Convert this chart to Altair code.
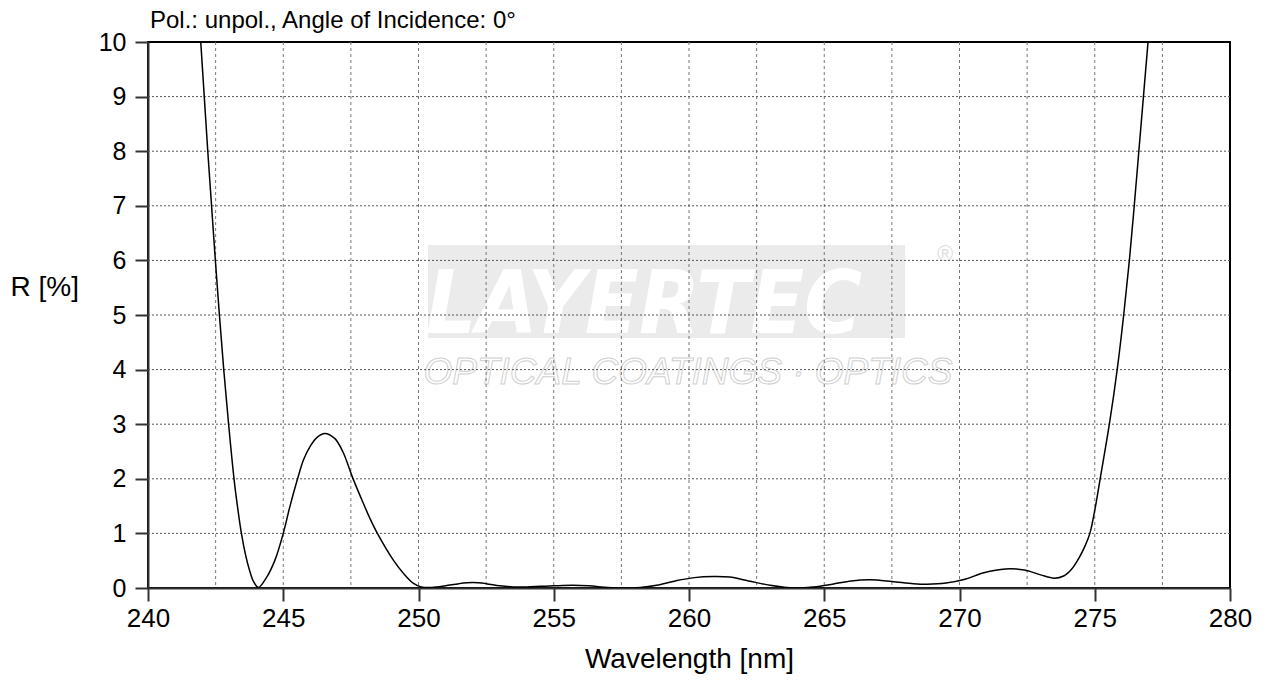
import altair as alt
import pandas as pd

# ---- data ----
wavelength = [241.95, 242.08, 242.21, 242.35, 242.49, 242.64, 242.80, 242.98, 243.18, 243.32,
              243.46, 243.60, 243.75, 243.90, 244.08, 244.39, 244.70, 245.0, 245.25, 245.5,
              245.75, 246.0, 246.25, 246.54, 246.9, 247.2, 247.55, 247.9, 248.2, 248.48,
              249.07, 249.44, 249.8, 250.1, 250.5,
              251.0, 251.5, 252.0, 252.5, 253.0, 253.5, 254.0, 254.5, 255.0, 255.7,
              256.3, 257.0, 257.6, 258.2, 258.8, 259.5, 260.2, 260.9, 261.5, 262.2,
              263.0, 263.9, 264.6, 265.3, 266.0, 266.7, 267.5, 268.3, 268.8, 269.5,
              270.2, 270.9, 271.7, 272.4, 273.0, 273.5, 273.85, 274.15, 274.45, 274.65,
              274.82, 275.0, 275.20, 275.54, 275.83, 276.07, 276.28, 276.46, 276.63, 276.80,
              276.97]
reflectance = [10.0, 9.0, 8.0, 7.0, 6.0, 5.0, 4.0, 3.0, 2.0, 1.45,
               0.98, 0.62, 0.33, 0.12, 0.01, 0.2, 0.52, 1.0, 1.5, 1.95,
               2.35, 2.6, 2.76, 2.83, 2.74, 2.5, 2.04, 1.62, 1.28, 1.0,
               0.51, 0.27, 0.09, 0.02, 0.01,
               0.04, 0.08, 0.1, 0.08, 0.04, 0.02, 0.02, 0.03, 0.04, 0.05,
               0.04, 0.01, 0.0, 0.01, 0.05, 0.13, 0.19, 0.21, 0.2, 0.13,
               0.05, 0.0, 0.02, 0.07, 0.13, 0.15, 0.12, 0.08, 0.07, 0.09,
               0.16, 0.28, 0.35, 0.33, 0.24, 0.18, 0.22, 0.35, 0.58, 0.78,
               1.0, 1.42, 2.0, 3.0, 4.0, 5.0, 6.0, 7.0, 8.0, 9.0,
               10.0]

x_labels = [240, 245, 250, 255, 260, 265, 270, 275, 280]
x_grid = [242.5, 245, 247.5, 250, 252.5, 255, 257.5, 260, 262.5, 265, 267.5, 270, 272.5, 275, 277.5]
y_ticks = [0, 1, 2, 3, 4, 5, 6, 7, 8, 9, 10]
y_grid = [1, 2, 3, 4, 5, 6, 7, 8, 9]

title_text = "Pol.: unpol., Angle of Incidence: 0°"
x_title = "Wavelength [nm]"
y_title = "R [%]"

FONT = "Liberation Sans, Arial, sans-serif"
W, H = 1082, 546

df = pd.DataFrame({"wl": wavelength, "R": reflectance})
gx = pd.DataFrame({"g": x_grid})
gy = pd.DataFrame({"g": y_grid})
one = pd.DataFrame({"a": [0]})

xscale = alt.Scale(domain=[240, 280], nice=False, zero=False)
yscale = alt.Scale(domain=[0, 10], nice=False, zero=False)

x_axis = alt.Axis(values=x_labels, title=x_title, grid=False, tickSize=13, tickWidth=2,
                  tickColor="#333333", domainColor="#333333", domainWidth=2,
                  labelFont=FONT, labelFontSize=26, labelColor="black", labelPadding=4,
                  labelFlush=False, format="d",
                  titleFont=FONT, titleFontSize=28, titleFontWeight="normal",
                  titleColor="black", titlePadding=14)
y_axis = alt.Axis(values=y_ticks, title=y_title, grid=False, tickSize=13, tickWidth=2,
                  tickColor="#333333", domainColor="#333333", domainWidth=2,
                  labelFont=FONT, labelFontSize=25, labelColor="black", labelPadding=9,
                  labelFlush=False, format="d",
                  titleFont=FONT, titleFontSize=28, titleFontWeight="normal",
                  titleColor="black", titleAngle=0, titleAlign="left",
                  titleBaseline="middle", titleX=-138, titleY=245)

# title as text above the plot
title = alt.Chart(one).mark_text(text=title_text, font=FONT, fontSize=24, color="black",
                                 align="left", baseline="middle").encode(
    x=alt.value(2), y=alt.value(-21))

# watermark
band = alt.Chart(one).mark_rect(color="#ebebeb").encode(
    x=alt.value(280), x2=alt.value(757), y=alt.value(203), y2=alt.value(296))
logo = alt.Chart(one).mark_text(
    text="LAYERTEC", font="Liberation Sans Narrow, DejaVu Sans Condensed, Liberation Sans, sans-serif",
    fontSize=88, fontStyle="italic", fontWeight="bold", color="white",
    align="center", baseline="alphabetic").encode(x=alt.value(496), y=alt.value(291))
reg = alt.Chart(one).mark_text(text="®", font=FONT, fontSize=22, color="#dddddd").encode(
    x=alt.value(797), y=alt.value(212))
sub = alt.Chart(one).mark_text(
    text="OPTICAL COATINGS · OPTICS", font=FONT, fontSize=37, fontStyle="italic",
    fill="white", stroke="#d0d0d0", strokeWidth=1, align="center",
    baseline="alphabetic").encode(x=alt.value(540), y=alt.value(342))

vgrid = alt.Chart(gx).mark_rule(color="#777777", strokeDash=[3, 3], strokeWidth=1).encode(
    x=alt.X("g:Q", scale=xscale, axis=x_axis))
hgrid = alt.Chart(gy).mark_rule(color="#555555", strokeDash=[2, 2], strokeWidth=1).encode(
    y=alt.Y("g:Q", scale=yscale, axis=y_axis))

curve = alt.Chart(df).mark_line(color="black", strokeWidth=1.5, clip=True,
                                interpolate="catmull-rom").encode(
    x=alt.X("wl:Q", scale=xscale, axis=x_axis),
    y=alt.Y("R:Q", scale=yscale, axis=y_axis))

chart = alt.layer(band, logo, reg, sub, vgrid, hgrid, curve, title).properties(
    width=W, height=H,
    padding={"left": 140, "top": 34, "right": 26, "bottom": 92},
    autosize="none",
).configure_view(stroke="black", strokeWidth=2)

chart.save("out.html", embed_options={"renderer": "svg", "actions": False})
